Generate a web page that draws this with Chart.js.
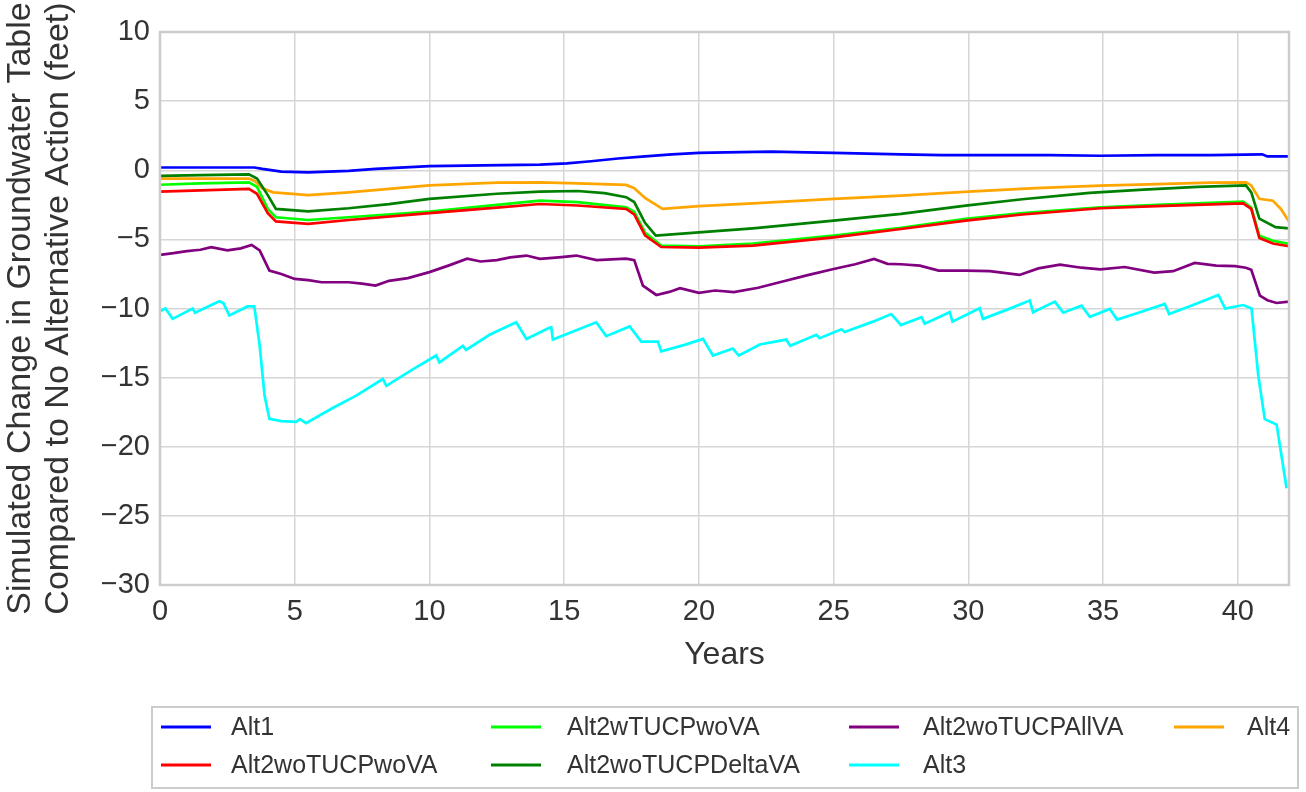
<!DOCTYPE html>
<html>
<head>
<meta charset="utf-8">
<script src="https://cdn.jsdelivr.net/npm/chart.js@4.4.1/dist/chart.umd.min.js"></script>
<style>
html,body{margin:0;padding:0;background:#fff;}
#wrap{width:1306px;height:792px;}
</style>
</head>
<body>
<div id="wrap"><canvas id="c" width="1306" height="792"></canvas></div>
<script>
// ---- data (years, feet) ----
const seriesNames = ['Alt1','Alt2woTUCPwoVA','Alt2wTUCPwoVA','Alt2woTUCPDeltaVA','Alt2woTUCPAllVA','Alt3','Alt4'];
const seriesColors = ['#0000ff','#ff0000','#00ff00','#008000','#800080','#00ffff','#ffa500'];

const alt1X = [0,3.5,3.8,4.5,5.5,7,8,10,12,14.1,15.1,16,17,18,19,20,21,22.7,24,25,27.5,29,31,33,34.9,37,39,40.9,41.1,41.9];
const alt1Y = [0.2,0.2,0.1,-0.1,-0.15,-0.05,0.1,0.3,0.35,0.4,0.5,0.65,0.85,1.0,1.15,1.25,1.3,1.35,1.3,1.25,1.15,1.1,1.1,1.1,1.05,1.1,1.1,1.15,1.0,1.0];

const redX = [0,1.5,3.3,3.6,4.0,4.3,5.5,7,10,12.5,14.1,15.5,17.3,17.6,18.0,18.6,20,22,25,27.5,29.9,32,34.9,37,40.2,40.5,40.8,41.3,41.9];
const redY = [-1.55,-1.45,-1.35,-1.7,-3.1,-3.7,-3.88,-3.6,-3.1,-2.7,-2.44,-2.55,-2.8,-3.2,-4.7,-5.55,-5.6,-5.45,-4.85,-4.25,-3.65,-3.2,-2.75,-2.6,-2.4,-2.8,-4.9,-5.3,-5.5];

const limeX = [0,1.5,3.3,3.6,4.0,4.3,5.5,7,10,12.5,14.1,15.5,17.3,17.6,18.0,18.6,20,22,25,27.5,29.9,32,34.9,37,40.2,40.5,40.8,41.3,41.9];
const limeY = [-1.05,-0.95,-0.87,-1.2,-2.8,-3.4,-3.6,-3.4,-2.99,-2.5,-2.2,-2.3,-2.68,-3.0,-4.5,-5.45,-5.5,-5.3,-4.73,-4.17,-3.52,-3.1,-2.68,-2.5,-2.27,-2.7,-4.73,-5.1,-5.33];

const dgreenX = [0,1.5,3.3,3.6,4.0,4.3,5.5,7,8.5,10,12.5,14.1,15.5,16.5,17.3,17.6,18.0,18.4,20,22,25,27.5,29.9,32,34.5,36.5,38.5,40.3,40.5,40.8,41.4,41.9];
const dgreenY = [-0.4,-0.35,-0.3,-0.6,-1.8,-2.8,-2.97,-2.75,-2.45,-2.07,-1.7,-1.55,-1.5,-1.65,-1.95,-2.3,-3.8,-4.73,-4.5,-4.2,-3.64,-3.16,-2.56,-2.1,-1.64,-1.4,-1.2,-1.1,-1.6,-3.5,-4.12,-4.2];

const purpleX = [0,0.5,1.0,1.5,1.9,2.5,3.0,3.4,3.7,4.06,4.5,5.0,5.5,6.0,7.0,7.5,8.0,8.5,9.2,10.0,10.7,11.4,11.9,12.5,13.0,13.6,14.1,14.8,15.45,16.2,17.3,17.6,17.92,18.42,18.9,19.3,20.0,20.6,21.3,22.2,23.0,24.0,25.0,25.8,26.5,27.0,27.5,28.2,28.9,29.9,30.8,31.9,32.6,33.4,34.2,34.9,35.8,36.9,37.6,38.4,39.2,39.9,40.3,40.5,40.82,41.1,41.44,41.9];
const purpleY = [-6.12,-6.0,-5.85,-5.75,-5.57,-5.8,-5.65,-5.4,-5.8,-7.26,-7.5,-7.86,-7.95,-8.1,-8.1,-8.2,-8.34,-8.0,-7.8,-7.37,-6.9,-6.4,-6.6,-6.5,-6.3,-6.17,-6.41,-6.3,-6.17,-6.5,-6.4,-6.5,-8.34,-9.02,-8.8,-8.53,-8.87,-8.7,-8.82,-8.5,-8.1,-7.6,-7.14,-6.8,-6.41,-6.77,-6.8,-6.9,-7.26,-7.26,-7.3,-7.57,-7.1,-6.83,-7.05,-7.17,-7.0,-7.4,-7.3,-6.7,-6.9,-6.94,-7.05,-7.2,-9.07,-9.4,-9.6,-9.5];

const cyanX = [0,0.2,0.47,1.21,1.3,2.2,2.35,2.57,3.25,3.5,3.7,3.88,4.06,4.5,5.05,5.2,5.42,6.41,7.28,8.27,8.4,9.38,10.25,10.37,11.24,11.36,12.23,13.22,13.6,14.45,14.52,14.58,16.19,16.56,17.43,17.86,18.48,18.6,19.47,20.15,20.52,21.26,21.48,22.26,23.24,23.39,24.36,24.48,25.29,25.41,26.46,27.14,27.5,28.26,28.38,29.31,29.41,30.42,30.54,31.42,32.28,32.4,33.21,33.52,34.2,34.51,35.25,35.52,36.37,37.29,37.45,38.22,39.28,39.53,40.2,40.51,40.76,41.0,41.44,41.81];
const cyanY = [-10.2,-10.0,-10.75,-10.0,-10.3,-9.47,-9.6,-10.5,-9.85,-9.85,-12.7,-16.3,-17.98,-18.15,-18.2,-18.0,-18.3,-17.2,-16.3,-15.1,-15.6,-14.4,-13.4,-13.9,-12.7,-13.0,-11.9,-11.0,-12.2,-11.4,-11.36,-12.25,-11.0,-12.0,-11.3,-12.4,-12.4,-13.1,-12.63,-12.2,-13.4,-12.9,-13.4,-12.6,-12.25,-12.7,-11.9,-12.15,-11.5,-11.7,-10.95,-10.4,-11.2,-10.63,-11.1,-10.27,-10.95,-9.98,-10.75,-10.1,-9.43,-10.27,-9.5,-10.3,-9.8,-10.6,-10.03,-10.8,-10.27,-9.67,-10.4,-9.84,-9.02,-10.0,-9.75,-10.0,-14.85,-18.0,-18.4,-23.0];

const alt4X = [0,1,2,3.3,3.5,3.8,4.2,5.5,7,10,12.5,14.1,15.5,17.3,17.6,18.0,18.65,20,22,25,27.5,30,32.5,34.9,37,39,40.3,40.5,40.8,41.3,41.6,41.9];
const alt4Y = [-0.6,-0.6,-0.6,-0.6,-0.75,-1.3,-1.6,-1.8,-1.6,-1.1,-0.9,-0.87,-0.95,-1.06,-1.3,-2.0,-2.8,-2.6,-2.4,-2.07,-1.83,-1.55,-1.3,-1.11,-1.0,-0.9,-0.87,-1.1,-2.07,-2.2,-2.8,-3.7];

const xTickStep = 5, xMin = 0, xMax = 41.9;
const yTickStep = 5, yMin = -30, yMax = 10;
const xTitle = 'Years';
const yTitle = ['Simulated Change in Groundwater Table','Compared to No Alternative Action (feet)'];

const seriesX = [alt1X, redX, limeX, dgreenX, purpleX, cyanX, alt4X];
const seriesY = [alt1Y, redY, limeY, dgreenY, purpleY, cyanY, alt4Y];

const FONT = '"Liberation Sans", Arial, Helvetica, sans-serif';
const TXT = '#333333';
const GRID = '#d6d6d6';

const datasets = seriesNames.map((name, i) => ({
  label: name,
  data: seriesX[i].map((x, j) => ({x: x, y: seriesY[i][j]})),
  borderColor: seriesColors[i],
  backgroundColor: seriesColors[i],
  borderWidth: 2.7,
  pointRadius: 0,
  tension: 0,
  fill: false
}));

// frame around plot area
const framePlugin = {
  id: 'frame',
  afterDatasetsDraw(chart) {
    const {ctx, chartArea: a} = chart;
    ctx.save();
    ctx.strokeStyle = '#cccccc';
    ctx.lineWidth = 2.5;
    ctx.strokeRect(a.left, a.top, a.right - a.left, a.bottom - a.top);
    ctx.restore();
  }
};

// boxed 4-column legend (matplotlib style, column-major)
const legendPlugin = {
  id: 'boxLegend',
  afterDraw(chart) {
    const ctx = chart.ctx;
    const ds = chart.data.datasets;
    const colLineX = [161, 491, 849, 1174];
    const colTextX = [231, 567, 923, 1247];
    const rowY = [727, 765];
    ctx.save();
    ctx.strokeStyle = '#cccccc';
    ctx.lineWidth = 2;
    ctx.strokeRect(152, 707, 1146, 81);
    ctx.font = '25px ' + FONT;
    ctx.fillStyle = TXT;
    ctx.textBaseline = 'middle';
    ctx.textAlign = 'left';
    ds.forEach((d, i) => {
      const col = Math.floor(i / 2), row = i % 2;
      const y = rowY[row];
      ctx.strokeStyle = d.borderColor;
      ctx.lineWidth = 3;
      ctx.beginPath();
      ctx.moveTo(colLineX[col], y);
      ctx.lineTo(colLineX[col] + 50, y);
      ctx.stroke();
      ctx.fillText(d.label, colTextX[col], y + 1);
    });
    ctx.restore();
  }
};

const fmt = v => (v < 0 ? '\u2212' + Math.abs(v) : String(v));

new Chart(document.getElementById('c'), {
  type: 'line',
  data: {datasets},
  plugins: [framePlugin, legendPlugin],
  options: {
    responsive: false,
    animation: false,
    devicePixelRatio: 1,
    layout: {padding: {left: 0, top: 32, right: 17, bottom: 112}},
    plugins: {legend: {display: false}, tooltip: {enabled: false}},
    scales: {
      x: {
        type: 'linear', min: xMin, max: xMax,
        afterFit(s) { s.height = 95; },
        ticks: {stepSize: xTickStep, includeBounds: false, color: TXT, font: {family: FONT, size: 29}, padding: 10, maxRotation: 0, callback: fmt},
        grid: {color: GRID, lineWidth: 1.5, drawTicks: false},
        border: {display: false},
        title: {display: true, text: xTitle, color: TXT, font: {family: FONT, size: 32}, padding: {top: 4, bottom: 6}}
      },
      y: {
        type: 'linear', min: yMin, max: yMax,
        afterFit(s) { s.width = 160; },
        ticks: {stepSize: yTickStep, includeBounds: false, color: TXT, font: {family: FONT, size: 29}, padding: 10, callback: fmt},
        grid: {color: GRID, lineWidth: 1.5, drawTicks: false},
        border: {display: false},
        title: {display: true, text: yTitle, color: TXT, font: {family: FONT, size: 34, lineHeight: 1.12}, padding: {top: 2, bottom: 0}}
      }
    }
  }
});
</script>
</body>
</html>
